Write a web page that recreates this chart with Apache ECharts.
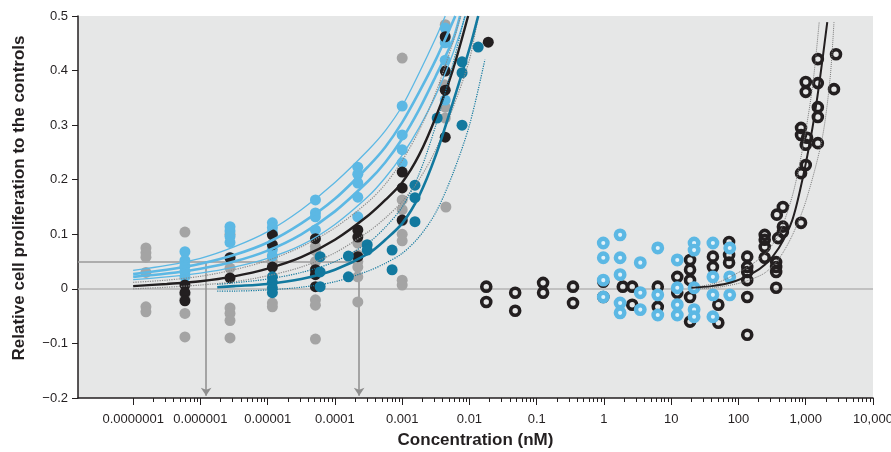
<!DOCTYPE html>
<html lang="en">
<head>
<meta charset="UTF-8" />
<title>Relative cell proliferation vs concentration</title>
<script src="https://cdn.jsdelivr.net/npm/echarts@6/dist/echarts.min.js"></script>
<style>
  html, body { margin: 0; padding: 0; background: #fff; }
  #chart { width: 891px; height: 452px; }
</style>
</head>
<body>
<div id="chart"></div>
<script>
// x values are log10 of the concentration (nM)
const xMin = -7.82, xMax = 4;
const xTickExp = [-7, -6, -5, -4, -3, -2, -1, 0, 1, 2, 3, 4];
const xTickLabels = ['0.0000001', '0.000001', '0.00001', '0.0001', '0.001', '0.01',
                     '0.1', '1', '10', '100', '1,000', '10,000'];

// filled dots, left cluster
const grayDots = [
  [-6.81,0.075],[-6.81,0.066],[-6.81,0.058],[-6.81,0.030],[-6.81,-0.033],[-6.81,-0.042],
  [-6.23,0.104],[-6.23,-0.010],[-6.23,-0.018],[-6.23,-0.045],[-6.23,-0.088],
  [-5.56,0.100],[-5.56,0.038],[-5.56,-0.035],[-5.56,-0.045],[-5.56,-0.058],[-5.56,-0.090],
  [-4.93,0.060],[-4.93,0.050],[-4.93,-0.026],[-4.93,-0.033],
  [-4.29,0.078],[-4.29,0.070],[-4.29,0.050],[-4.29,-0.020],[-4.29,-0.030],[-4.29,-0.092],
  [-3.66,0.084],[-3.66,0.062],[-3.66,0.050],[-3.66,0.040],[-3.66,0.022],[-3.66,-0.024],
  [-3.00,0.423],[-3.00,0.163],[-3.00,0.145],[-3.00,0.125],[-3.00,0.100],[-3.00,0.088],[-3.00,0.016],[-3.00,0.007],
  [-2.36,0.484],[-2.37,0.374],[-2.36,0.333],[-2.36,0.313],[-2.35,0.150]
];
const lightBlueDots = [
  [-6.23,0.068],[-6.23,0.052],[-6.23,0.042],[-6.23,0.032],[-6.23,0.022],
  [-5.56,0.114],[-5.56,0.106],[-5.56,0.096],[-5.56,0.085],[-5.56,0.057],
  [-4.93,0.121],[-4.93,0.112],[-4.93,0.103],[-4.93,0.072],[-4.93,0.060],
  [-4.29,0.163],[-4.29,0.139],[-4.29,0.132],[-4.29,0.108],
  [-3.66,0.223],[-3.66,0.210],[-3.66,0.194],[-3.66,0.168],[-3.66,0.132],
  [-3.00,0.335],[-3.00,0.282],[-3.00,0.255],[-3.00,0.231],
  [-2.36,0.478],[-2.36,0.451],[-2.36,0.419],[-2.36,0.346]
];
const blackDots = [
  [-6.23,0.007],[-6.23,-0.007],[-6.23,-0.022],
  [-5.56,0.057],[-5.56,0.020],
  [-4.93,0.099],[-4.93,0.081],[-4.93,0.040],
  [-4.29,0.092],[-4.29,0.035],[-4.29,0.026],[-4.29,0.004],
  [-3.66,0.108],[-3.66,0.095],[-3.66,0.059],
  [-3.00,0.214],[-3.00,0.185],[-3.00,0.126],
  [-2.36,0.462],[-2.36,0.399],[-2.36,0.364],[-2.36,0.278],
  [-1.72,0.452]
];
const tealDots = [
  [-4.93,0.022],[-4.93,0.012],[-4.93,0.002],[-4.93,-0.007],
  [-4.22,0.059],[-4.22,0.031],[-4.22,0.004],
  [-3.80,0.060],[-3.80,0.022],
  [-3.52,0.081],[-3.52,0.071],
  [-3.15,0.071],[-3.15,0.035],
  [-2.81,0.190],[-2.81,0.167],[-2.81,0.123],
  [-2.48,0.313],
  [-2.11,0.416],[-2.11,0.396],[-2.11,0.300],
  [-1.87,0.443]
];

// open rings, right cluster
const blackRings = [
  [-1.75,0.004],[-1.75,-0.024],[-1.32,-0.007],[-1.32,-0.040],
  [-0.905,0.011],[-0.905,-0.007],[-0.46,0.004],[-0.46,-0.026],
  [-0.01,0.013],[-0.01,-0.015],[0.28,0.004],[0.42,0.004],[0.42,-0.029],
  [0.80,0.004],[0.80,-0.033],[1.09,0.022],[1.09,-0.007],
  [1.28,0.053],[1.28,0.035],[1.28,0.016],[1.28,-0.015],[1.28,-0.060],
  [1.62,0.059],[1.62,0.040],[1.70,-0.029],[1.70,-0.062],
  [1.86,0.086],[1.86,0.062],[1.86,0.048],
  [2.13,0.059],[2.13,0.040],[2.13,0.031],[2.13,0.016],[2.13,-0.015],[2.13,-0.084],
  [2.39,0.099],[2.39,0.090],[2.39,0.077],[2.39,0.057],
  [2.56,0.049],[2.56,0.040],[2.56,0.031],[2.56,0.002],
  [2.57,0.136],[2.59,0.093],[2.66,0.150],[2.66,0.114],[2.66,0.104],
  [2.93,0.121],[2.93,0.212],[2.93,0.282],[2.93,0.295],
  [3.00,0.379],[3.00,0.361],[3.00,0.264],[3.00,0.227],[3.02,0.277],
  [3.18,0.421],[3.18,0.377],[3.18,0.333],[3.18,0.315],[3.18,0.267],
  [3.42,0.366],[3.45,0.430]
];
const lightBlueRings = [
  [-0.01,0.084],[-0.01,0.057],[-0.01,0.016],[-0.01,-0.015],
  [0.24,0.099],[0.24,0.057],[0.24,0.026],[0.24,-0.026],[0.24,-0.044],
  [0.54,0.048],[0.54,-0.007],[0.54,-0.038],
  [0.80,0.075],[0.80,-0.011],[0.80,-0.048],
  [1.09,0.053],[1.09,0.002],[1.09,-0.029],[1.09,-0.048],
  [1.34,0.084],[1.34,0.071],[1.34,0.002],[1.34,-0.038],[1.34,-0.051],
  [1.62,0.084],[1.62,0.022],[1.62,-0.011],[1.62,-0.051],
  [1.87,0.075],[1.87,0.022],[1.87,-0.011]
];

// fitted curves and their bands
const lightBlueUpper = [[-7,0.034],[-6.5,0.043],[-6,0.056],[-5.5,0.077],[-5,0.105],[-4.5,0.145],[-4,0.195],[-3.5,0.255],[-3.25,0.29],[-3,0.335],[-2.75,0.395],[-2.5,0.46],[-2.36,0.5]];
const lightBlueFitA  = [[-7,0.027],[-6.5,0.035],[-6,0.046],[-5.5,0.062],[-5,0.085],[-4.5,0.12],[-4,0.165],[-3.5,0.225],[-3.25,0.26],[-3,0.305],[-2.75,0.36],[-2.5,0.42],[-2.21,0.5]];
const lightBlueFitB  = [[-7,0.022],[-6.5,0.028],[-6,0.037],[-5.5,0.05],[-5,0.07],[-4.5,0.1],[-4,0.142],[-3.5,0.198],[-3.25,0.232],[-3,0.275],[-2.75,0.328],[-2.5,0.39],[-2.25,0.455],[-2.14,0.5]];
const lightBlueLower = [[-7,0.017],[-6.5,0.022],[-6,0.029],[-5.5,0.04],[-5,0.056],[-4.5,0.08],[-4,0.118],[-3.5,0.17],[-3.25,0.204],[-3,0.245],[-2.75,0.295],[-2.5,0.355],[-2.25,0.43],[-2.06,0.5]];
const blackFit   = [[-7,0.005],[-6.5,0.009],[-6,0.014],[-5.5,0.023],[-5,0.037],[-4.5,0.058],[-4,0.09],[-3.5,0.135],[-3.25,0.163],[-3,0.195],[-2.75,0.245],[-2.5,0.315],[-2.25,0.4],[-2.02,0.5]];
const blackUpper = [[-7,0.012],[-6.5,0.016],[-6,0.023],[-5.5,0.035],[-5,0.052],[-4.5,0.077],[-4,0.112],[-3.5,0.16],[-3.25,0.192],[-3,0.235],[-2.75,0.29],[-2.5,0.36],[-2.25,0.45],[-2.13,0.5]];
const blackLower = [[-7,0.0],[-6.5,0.003],[-6,0.007],[-5.5,0.013],[-5,0.024],[-4.5,0.04],[-4,0.066],[-3.5,0.105],[-3.25,0.13],[-3,0.16],[-2.75,0.2],[-2.5,0.255],[-2.25,0.33],[-2,0.42],[-1.87,0.5]];
const tealFit   = [[-5.75,0.003],[-5.5,0.005],[-5,0.009],[-4.5,0.018],[-4,0.035],[-3.5,0.065],[-3.25,0.09],[-3,0.12],[-2.75,0.17],[-2.5,0.245],[-2.25,0.34],[-2,0.44],[-1.87,0.5]];
const tealUpper = [[-5.75,0.008],[-5.5,0.011],[-5,0.018],[-4.5,0.03],[-4,0.05],[-3.5,0.085],[-3.25,0.113],[-3,0.15],[-2.75,0.21],[-2.5,0.3],[-2.25,0.41],[-2.07,0.5]];
const tealLower = [[-5.75,-0.004],[-5.5,-0.004],[-5,-0.002],[-4.5,0.003],[-4,0.013],[-3.5,0.033],[-3.25,0.047],[-3,0.065],[-2.75,0.095],[-2.5,0.14],[-2.25,0.21],[-2,0.3],[-1.77,0.42]];
const rightFit   = [[1.3,0.002],[1.6,0.005],[1.9,0.012],[2.2,0.028],[2.4,0.045],[2.6,0.075],[2.8,0.126],[2.95,0.2],[3.1,0.295],[3.2,0.375],[3.32,0.489]];
const rightUpper = [[1.4,0.004],[1.7,0.012],[2.0,0.03],[2.2,0.045],[2.4,0.065],[2.6,0.1],[2.8,0.17],[2.95,0.255],[3.1,0.37],[3.2,0.489]];
const rightLower = [[1.4,0.0],[1.7,0.003],[2.0,0.01],[2.2,0.018],[2.4,0.03],[2.6,0.055],[2.8,0.098],[3.0,0.16],[3.24,0.273],[3.36,0.383],[3.42,0.489]];

// reference level and the two arrows down to the x axis
const refLevel = 0.05;
const arrowExp = [-5.915, -3.64];

// minor log ticks (2..9 in every decade from 1e-7)
const xMinorExp = [];
for (let n = -7; n < 4; n++) {
  for (let k = 2; k <= 9; k++) xMinorExp.push(n + Math.log10(k));
}

const FONT = "'Liberation Sans', Arial, sans-serif";
const INK = '#231f20';
const LBLUE = '#5cb8e4';
const TEAL = '#12799f';
const GRAY = '#a4a4a4';

function dots(data, color) {
  return { type: 'scatter', data, symbolSize: 11, itemStyle: { color, opacity: 1 }, z: 3, silent: true };
}
function curve(data, color, width, type) {
  return {
    type: 'line', data, symbol: 'none', smooth: 0.3,
    lineStyle: { color, width, type: type || 'solid' }, z: 4, silent: true
  };
}

const chart = echarts.init(document.getElementById('chart'));
chart.setOption({
  animation: false,
  grid: {
    left: 78, right: 18, top: 16, bottom: 54, outerBoundsMode: 'none',
    show: true, backgroundColor: '#e6e7e7', borderWidth: 0
  },
  xAxis: [{
    type: 'value', min: xMin, max: xMax, position: 'bottom',
    axisLine: { onZero: false, lineStyle: { color: INK, width: 1.5 } },
    axisTick: { customValues: xTickExp, length: 7, lineStyle: { color: INK, width: 1 } },
    axisLabel: {
      customValues: xTickExp, margin: 15, color: INK, fontFamily: FONT, fontSize: 13,
      formatter: v => xTickLabels[xTickExp.indexOf(Math.round(v))]
    },
    splitLine: { show: false },
    name: 'Concentration (nM)', nameLocation: 'middle', nameGap: 34,
    nameTextStyle: { color: INK, fontFamily: FONT, fontSize: 17, fontWeight: 'bold' }
  }, {
    type: 'value', min: xMin, max: xMax, position: 'bottom',
    axisLine: { show: false, onZero: false },
    axisTick: { customValues: xMinorExp, length: 4, lineStyle: { color: INK, width: 1 } },
    axisLabel: { show: false },
    splitLine: { show: false }
  }],
  yAxis: {
    type: 'value', min: -0.2, max: 0.5, interval: 0.1,
    axisLine: { show: true, onZero: false, lineStyle: { color: INK, width: 1.5 } },
    axisTick: { show: true, length: 6, lineStyle: { color: INK, width: 1 } },
    axisLabel: {
      margin: 10, color: INK, fontFamily: FONT, fontSize: 13,
      formatter: v => Math.abs(v) < 1e-9 ? '0' : (v < 0 ? '\u2212' + (-v).toFixed(1) : v.toFixed(1))
    },
    splitLine: { show: false },
    name: 'Relative cell proliferation to the controls', nameLocation: 'middle', nameGap: 50,
    nameTextStyle: { color: INK, fontFamily: FONT, fontSize: 17, fontWeight: 'bold', padding: [0, 0, 0, 18] }
  },
  series: [
    { type: 'lines', coordinateSystem: 'cartesian2d', silent: true, z: 1,
      data: [{ coords: [[xMin, 0], [xMax, 0]] }],
      lineStyle: { color: '#b4b4b4', width: 1.5, opacity: 1 } },
    { type: 'lines', coordinateSystem: 'cartesian2d', silent: true, z: 1,
      data: [{ coords: [[xMin, refLevel], [arrowExp[1], refLevel]] }],
      lineStyle: { color: '#9a9a9a', width: 1.5, opacity: 1 } },
    { type: 'lines', coordinateSystem: 'cartesian2d', silent: true, z: 1,
      symbol: ['none', 'arrow'], symbolSize: 8,
      data: arrowExp.map(x => ({ coords: [[x, refLevel], [x, -0.196]] })),
      lineStyle: { color: '#8e8e8e', width: 1.5, opacity: 1 } },

    dots(grayDots, GRAY),
    dots(lightBlueDots, LBLUE),
    dots(blackDots, INK),
    dots(tealDots, TEAL),

    { type: 'scatter', data: blackRings, symbolSize: 9, z: 3, silent: true,
      itemStyle: { color: 'rgba(0,0,0,0)', borderColor: INK, borderWidth: 3.6, opacity: 1 } },
    { type: 'scatter', data: lightBlueRings, symbolSize: 8.5, z: 3, silent: true,
      itemStyle: { color: '#e2f2fa', borderColor: LBLUE, borderWidth: 4.4, opacity: 1 } },

    curve(lightBlueUpper, LBLUE, 1.3),
    curve(lightBlueFitA, LBLUE, 2.6),
    curve(lightBlueFitB, LBLUE, 2.6),
    curve(lightBlueLower, LBLUE, 1.3),
    curve(blackUpper, '#8a8a8a', 1.2, 'dotted'),
    curve(blackLower, '#8a8a8a', 1.2, 'dotted'),
    curve(blackFit, INK, 2.4),
    curve(tealUpper, TEAL, 1.2, 'dotted'),
    curve(tealLower, TEAL, 1.2, 'dotted'),
    curve(tealFit, TEAL, 2.6),
    curve(rightUpper, '#7a7a7a', 1, 'dotted'),
    curve(rightLower, '#7a7a7a', 1, 'dotted'),
    curve(rightFit, INK, 2)
  ]
});
</script>
</body>
</html>
